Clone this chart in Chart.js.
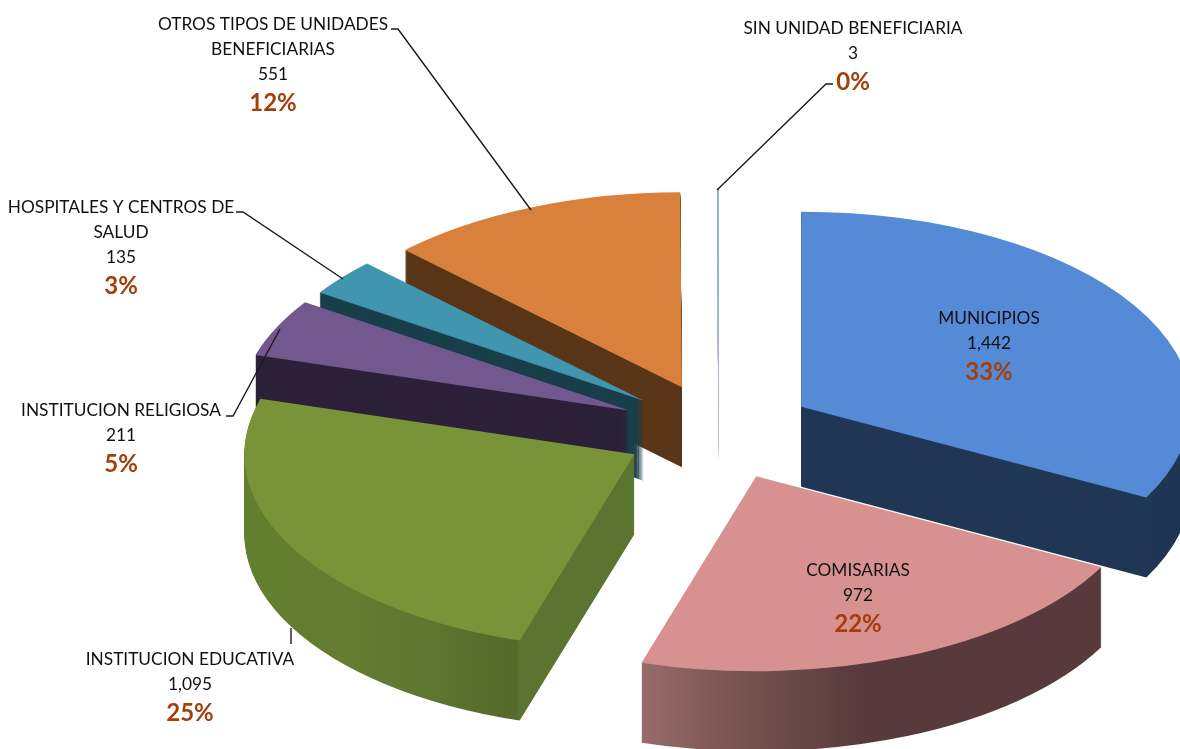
<!DOCTYPE html>
<html>

<head>
    <title>Unidades beneficiarias</title>
    <script src="https://cdn.jsdelivr.net/npm/chart.js"></script>
    <style>
        html, body { margin: 0; padding: 0; background: #fff; overflow: hidden; }
        canvas { display: block; }
    </style>
</head>

<body>
    <canvas id="pieChart" width="1180" height="749"></canvas>

    <script>
        // data
        const categories = ['MUNICIPIOS', 'COMISARIAS', 'INSTITUCION EDUCATIVA', 'INSTITUCION RELIGIOSA',
            'HOSPITALES Y CENTROS DE SALUD', 'OTROS TIPOS DE UNIDADES BENEFICIARIAS', 'SIN UNIDAD BENEFICIARIA'];
        const counts = [1442, 972, 1095, 211, 135, 551, 3];
        const percentLabels = ['33%', '22%', '25%', '5%', '3%', '12%', '0%'];

        const topColors = ['#558ad6', '#d79191', '#799339', '#73578f', '#4095af', '#d9803c', '#8fabe0'];
        const wallColors = ['#213755', '#583a3c', '#5b7430', '#2d2139', '#193f4b', '#5a3618', '#b4b8c4'];
        // how far each slice is pulled out. Not the arc offset option: that one
        // also changes the radius and trims thin slices
        const explode = [96, 97, 96, 99, 97, 96, 95];

        // back to front
        const drawOrder = [6, 5, 4, 3, 0, 2, 1];
        const tilt = 0.5;
        const depth = 80;

        // text blocks: centre x, then a baseline-centre y per line
        const labelLayout = [
            { x: 989, lines: ['MUNICIPIOS'], y: 318 },
            { x: 858, lines: ['COMISARIAS'], y: 570 },
            { x: 190, lines: ['INSTITUCION EDUCATIVA'], y: 659 },
            { x: 121, lines: ['INSTITUCION RELIGIOSA'], y: 410 },
            { x: 121, lines: ['HOSPITALES Y CENTROS DE', 'SALUD'], y: 207 },
            { x: 273, lines: ['OTROS TIPOS DE UNIDADES', 'BENEFICIARIAS'], y: 24 },
            { x: 853, lines: ['SIN UNIDAD BENEFICIARIA'], y: 28 }
        ];

        const leaderLines = [
            [[833, 84], [826, 84], [717, 190]],
            [[391, 29], [398, 29], [531, 210]],
            [[236, 212], [243, 212], [343, 279]],
            [[226, 416], [233, 416], [280, 329]],
            [[291, 644], [291, 628]]
        ];

        function wallFill(ctx, i, shift) {
            // the arc is drawn in a moved context, so the gradient has to move back
            if (i === 1) {
                const g = ctx.createLinearGradient(641 - shift, 0, 900 - shift, 0);
                g.addColorStop(0, '#986c6b');
                g.addColorStop(0.35, '#7a5551');
                g.addColorStop(0.85, '#583a3c');
                g.addColorStop(1, '#583a3c');
                return g;
            }
            if (i === 2) {
                const g = ctx.createLinearGradient(245 - shift, 0, 519 - shift, 0);
                g.addColorStop(0, '#62802f');
                g.addColorStop(0.4, '#647c30');
                g.addColorStop(0.7, '#5c7530');
                g.addColorStop(0.99, '#54692a');
                g.addColorStop(1, '#5b7430');
                return g;
            }
            return wallColors[i];
        }

        function drawSlice(ctx, arc, cx, cy, dx, dy, drop) {
            ctx.save();
            ctx.translate(cx, cy + drop);
            ctx.scale(1, tilt);
            ctx.translate(-cx + dx, -cy + dy);
            arc.draw(ctx);
            ctx.restore();
        }

        // fake the 3D look: squash the arcs and stack them to get the side walls
        const pie3d = {
            id: 'pie3d',
            beforeDatasetsDraw(chart) {
                const ctx = chart.ctx;
                const arcs = chart.getDatasetMeta(0).data;
                const cx = arcs[0].x;
                const cy = arcs[0].y;

                drawOrder.forEach(i => {
                    const arc = arcs[i];
                    const base = arc.options;
                    const mid = (arc.startAngle + arc.endAngle) / 2;
                    const dx = Math.cos(mid) * explode[i];
                    const dy = Math.sin(mid) * explode[i];

                    arc.options = Object.assign({}, base, { backgroundColor: wallFill(ctx, i, dx) });
                    for (let d = depth; d > 0; d--) {
                        drawSlice(ctx, arc, cx, cy, dx, dy, d);
                    }
                    arc.options = base;
                    drawSlice(ctx, arc, cx, cy, dx, dy, 0);
                });
                return false;
            },
            beforeDatasetDraw() {
                return false;
            },
            afterDraw(chart) {
                const ctx = chart.ctx;
                ctx.save();

                ctx.strokeStyle = '#1a1a1a';
                ctx.lineWidth = 1.4;
                leaderLines.forEach(pts => {
                    ctx.beginPath();
                    pts.forEach((p, n) => n ? ctx.lineTo(p[0], p[1]) : ctx.moveTo(p[0], p[1]));
                    ctx.stroke();
                });

                ctx.textAlign = 'center';
                ctx.textBaseline = 'middle';
                labelLayout.forEach((l, i) => {
                    let y = l.y;
                    ctx.fillStyle = '#111';
                    ctx.font = '17.3px Lato';
                    l.lines.forEach(t => {
                        ctx.fillText(t, l.x, y);
                        y += 25;
                    });
                    ctx.fillText(counts[i].toLocaleString('en-US'), l.x, y);
                    ctx.fillStyle = '#a33f0b';
                    ctx.font = 'bold 24px Lato';
                    ctx.fillText(percentLabels[i], l.x, y + 29);
                });
                ctx.restore();
            }
        };

        new Chart(document.getElementById('pieChart').getContext('2d'), {
            type: 'pie',
            data: {
                labels: categories,
                datasets: [{
                    data: counts,
                    backgroundColor: topColors,
                    borderWidth: 0,
                    radius: 390
                }]
            },
            options: {
                responsive: false,
                animation: false,
                layout: { padding: { left: 258, top: 114 } },
                plugins: {
                    legend: { display: false },
                    tooltip: { enabled: false }
                }
            },
            plugins: [pie3d]
        });
    </script>
</body>

</html>
